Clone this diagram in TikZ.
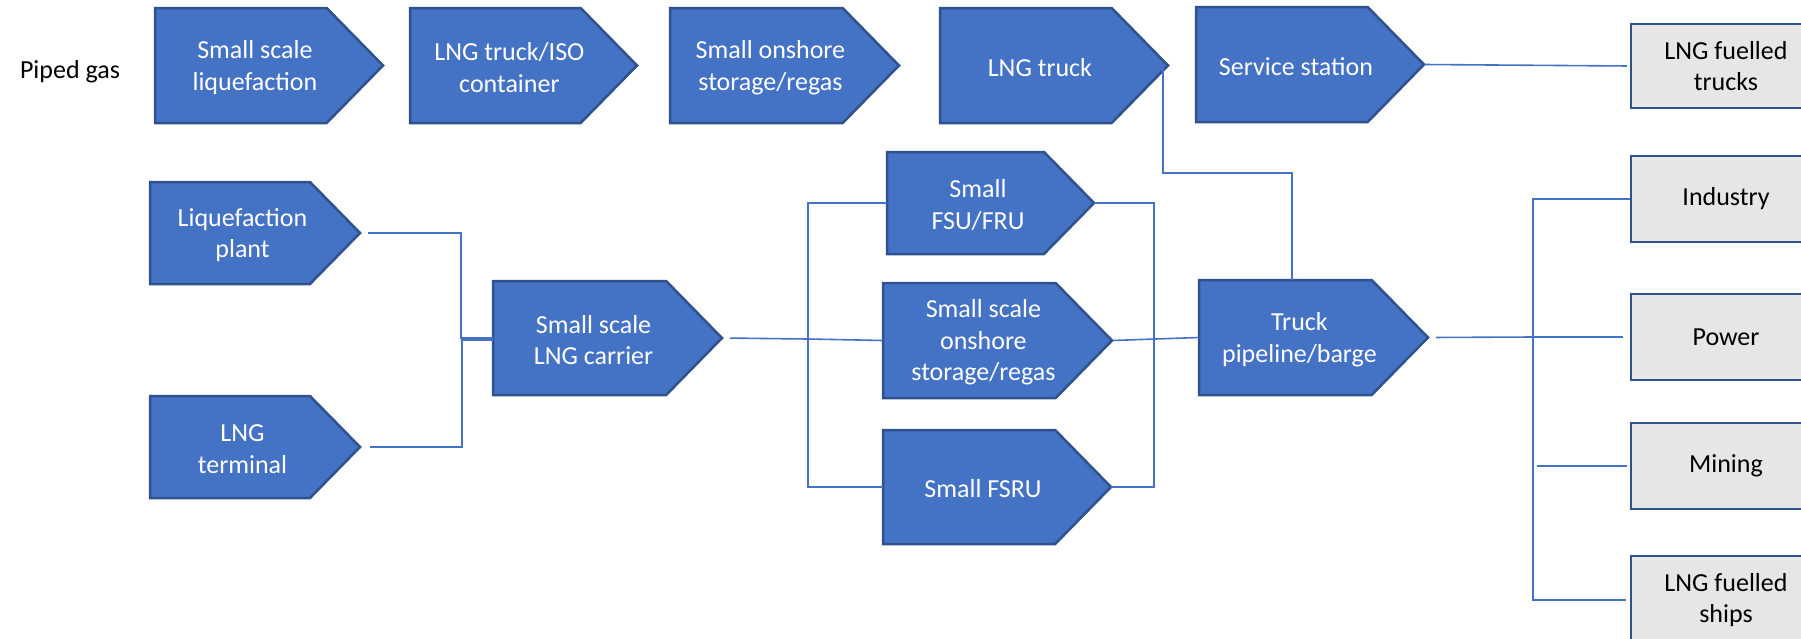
\documentclass[tikz,border=0pt]{standalone}
\usepackage{fontspec}
\setmainfont{Carlito}
\definecolor{chevfill}{HTML}{4472C4}
\definecolor{chevline}{HTML}{2F528F}
\definecolor{grayfill}{HTML}{E7E6E6}
\definecolor{conn}{HTML}{4472C4}
\tikzset{
  chevshape/.style={fill=chevfill, draw=chevline, line width=2.5pt, line join=miter},
  chevtext/.style={text=white, font=\fontsize{26}{31.5}\selectfont, align=center, inner sep=0pt, yshift=-2pt},
  graybox/.style={fill=grayfill, draw=chevline, line width=2.5pt, minimum width=190pt, font=\fontsize{26}{31.5}\selectfont, align=center, inner sep=0pt},
  plaintext/.style={font=\fontsize{26}{31.5}\selectfont, inner sep=0pt},
  conn/.style={draw=conn, line width=1.6pt}
}
\newcommand{\Chev}[6]{%
  \filldraw[chevshape] (#2,#3) -- ({#4-0.49*(#5-#3)},#3) -- (#4,{(#3+#5)/2}) -- ({#4-0.49*(#5-#3)},#5) -- (#2,#5) -- cycle;
  \coordinate (#1-w) at (#2,{(#3+#5)/2});
  \coordinate (#1-e) at (#4,{(#3+#5)/2});
  \coordinate (#1-nw) at (#2,#3);
  \node[chevtext] (#1) at ({(#2+#4-0.245*(#5-#3))/2},{(#3+#5)/2}) {#6};
}
\begin{document}
\begin{tikzpicture}[x=1pt,y=-1pt]
\useasboundingbox (0,0) rectangle (1801,638);

% top row
\node[plaintext] (pg) at (70,72) {Piped gas};
\Chev{sliq}{155}{8}{383}{123}{Small scale\\liquefaction}
\Chev{iso}{410}{8}{637}{123}{LNG truck/ISO\\container}
\Chev{sos}{670}{8}{899}{123}{Small onshore\\storage/regas}
\Chev{lngt}{940}{8}{1168}{123}{LNG truck}
\Chev{serv}{1196}{7}{1424}{122}{Service station}

% middle
\Chev{plant}{150}{182}{360}{284}{Liquefaction\\plant}
\Chev{term}{150}{396}{360}{498}{LNG\\terminal}
\Chev{carr}{493}{281}{722}{395}{Small scale\\LNG carrier}
\Chev{fsu}{887}{152}{1094}{254}{Small\\FSU/FRU}
\Chev{onsh}{883}{283}{1112}{398}{Small scale\\onshore\\storage/regas}
\Chev{fsru}{883}{430}{1111}{544}{Small FSRU}
\Chev{truck}{1199}{280}{1428}{395}{Truck\\pipeline/barge}

% end uses
\node[graybox, minimum height=84pt] (ftr) at (1726,66) {LNG fuelled\\trucks};
\node[graybox, minimum height=86pt] (ind) at (1726,199) {\raisebox{-3pt}{Industry}};
\node[graybox, minimum height=86pt] (pow) at (1726,337) {\raisebox{-2pt}{Power}};
\node[graybox, minimum height=86pt] (min) at (1726,466) {\raisebox{-2pt}{Mining}};
\node[graybox, minimum height=88pt] (ships) at (1726,600) {LNG fuelled\\ships};

% connectors
\coordinate (b1) at (461,338);
\coordinate (b1t) at (462,340);
\coordinate (b2) at (808,339);
\coordinate (b3) at (1154,340);
\coordinate (b4) at (1533,337);
\coordinate (j1) at (1292,173);

\draw[conn, shorten >=3pt] (serv-e) -- (ftr.west);
\draw[conn] ([xshift=-5pt]lngt-e) |- (j1) -- (j1 |- truck-nw);

\draw[conn, shorten <=8pt] (plant-e) -| (b1) -- (carr-w);
\draw[conn, shorten <=10pt] (term-e) -| (b1t) -- (carr-w |- b1t);

\draw[conn, shorten <=8pt] (carr-e) -- (b2);
\draw[conn] (fsu-w) -| (b2 |- fsru-w) -- (fsru-w);
\draw[conn] (onsh-w) -- (b2);

\draw[conn] (fsu-e) -| (b3 |- fsru-e) -- (fsru-e);
\draw[conn] (onsh-e) -- (truck-w);

\draw[conn, shorten <=8pt] (truck-e) -- (b4);
\draw[conn, shorten >=4pt] (ind.west) -| (b4 |- ships.west) -- (ships.west);
\draw[conn, shorten >=7pt] (b4 |- pow.west) -- (pow.west);
\draw[conn, shorten >=3pt] ([xshift=4pt]b4 |- min.west) -- (min.west);
\end{tikzpicture}
\end{document}
